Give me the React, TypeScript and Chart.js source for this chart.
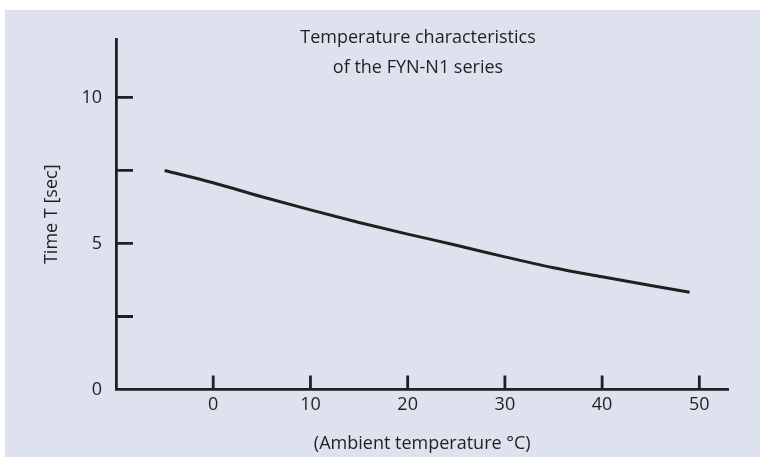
import React, { useEffect, useRef } from "react";
import { Chart, registerables } from "chart.js";

Chart.register(...registerables);

const temperatures = [-5, 0, 5, 10, 15, 20, 25, 30, 35, 40, 45, 49];
const timeValues = [7.5, 7.08, 6.6, 6.15, 5.72, 5.32, 4.94, 4.54, 4.17, 3.86, 3.56, 3.33];
const xTickValues = [0, 10, 20, 30, 40, 50];
const yTickValues = [0, 2.5, 5, 7.5, 10];
const yLabelValues = [0, 5, 10];
const titleLines = ["Temperature characteristics", "of the FYN-N1 series"];
const xTitle = "(Ambient temperature °C)";
const yTitle = "Time T [sec]";

const INK = "#231f20";
const BG = "#dee1ee";
const FONT = "'Open Sans'";
const FS = 18;

export default function App() {
  const ref = useRef<HTMLCanvasElement | null>(null);
  useEffect(() => {
    if (!ref.current) return;
    const bgPlugin = {
      id: "bgPlugin",
      beforeDraw(chart: any) {
        const { ctx, width, height } = chart;
        ctx.save();
        ctx.fillStyle = "#ffffff";
        ctx.fillRect(0, 0, width, height);
        ctx.fillStyle = BG;
        ctx.fillRect(5, 10, width - 5, height - 10);
        ctx.restore();
      },
      afterDraw(chart: any) {
        const { ctx, chartArea } = chart;
        const xs = chart.scales.x;
        const ys = chart.scales.y;
        ctx.save();
        ctx.strokeStyle = INK;
        ctx.lineWidth = 2.8;
        ctx.beginPath();
        yTickValues.forEach((v) => {
          if (v === 0) return;
          const py = ys.getPixelForValue(v);
          ctx.moveTo(chartArea.left, py);
          ctx.lineTo(chartArea.left + 17, py);
        });
        xTickValues.forEach((v) => {
          const px = xs.getPixelForValue(v);
          ctx.moveTo(px, chartArea.bottom);
          ctx.lineTo(px, chartArea.bottom - 14);
        });
        ctx.stroke();
        ctx.fillStyle = INK;
        ctx.font = `${FS}px ${FONT}`;
        ctx.textAlign = "center";
        ctx.textBaseline = "alphabetic";
        ctx.fillText(titleLines[0], 418, 43);
        ctx.fillText(titleLines[1], 418, 72.5);
        ctx.restore();
      },
    };
    const chart = new Chart(ref.current, {
      type: "line",
      data: {
        datasets: [
          {
            data: temperatures.map((t, i) => ({ x: t, y: timeValues[i] })),
            borderColor: INK,
            borderWidth: 3,
            pointRadius: 0,
            fill: false,
            cubicInterpolationMode: "monotone",
          },
        ],
      },
      options: {
        animation: false,
        responsive: true,
        maintainAspectRatio: false,
        layout: { padding: { left: 0, right: 31.5, top: 39, bottom: 0 } },
        plugins: { legend: { display: false }, tooltip: { enabled: false } },
        scales: {
          x: {
            type: "linear",
            min: -10,
            max: 53,
            afterBuildTicks: (scale: any) => {
              scale.ticks = xTickValues.map((v) => ({ value: v }));
            },
            afterFit: (scale: any) => {
              scale.height = 67.5;
              scale.paddingLeft = 0;
              scale.paddingRight = 0;
            },
            grid: { display: false, drawTicks: false },
            border: { display: true, color: INK, width: 2.8 },
            ticks: {
              color: INK,
              font: { family: FONT, size: FS },
              padding: 5,
              maxRotation: 0,
              autoSkip: false,
            },
            title: {
              display: true,
              text: xTitle,
              color: INK,
              font: { family: FONT, size: FS },
              padding: { top: 0, bottom: 2.5 },
            },
          },
          y: {
            type: "linear",
            min: 0,
            max: 12,
            afterBuildTicks: (scale: any) => {
              scale.ticks = yTickValues.map((v) => ({ value: v }));
            },
            afterFit: (scale: any) => {
              scale.width = 116;
              scale.paddingTop = 0;
              scale.paddingBottom = 0;
            },
            grid: { display: false, drawTicks: false },
            border: { display: true, color: INK, width: 2.8 },
            ticks: {
              color: INK,
              font: { family: FONT, size: FS },
              padding: 14,
              autoSkip: false,
              callback: (v: any) => (yLabelValues.includes(Number(v)) ? String(v) : ""),
            },
            title: {
              display: true,
              text: yTitle,
              color: INK,
              font: { family: FONT, size: FS },
              padding: { top: 41, bottom: 0 },
            },
          },
        },
      },
      plugins: [bgPlugin],
    } as any);
    return () => chart.destroy();
  }, []);
  return (
    <div style={{ position: "absolute", left: 0, top: 0, width: 760, height: 457 }}>
      <canvas ref={ref} />
    </div>
  );
}
